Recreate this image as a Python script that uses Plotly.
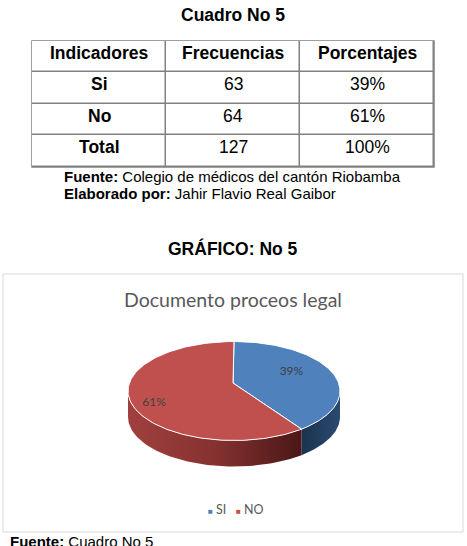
import numpy as np
import plotly.graph_objects as go

# ---------------- data ----------------
headers = ["Indicadores", "Frecuencias", "Porcentajes"]
indicadores = ["Si", "No", "Total"]
frecuencias = [63, 64, 127]
porcentajes = ["39%", "61%", "100%"]

pie_labels = ["SI", "NO"]
pie_values = [39, 61]

# ---------------- style ----------------
W, H = 467, 546
BLUE, RED = "#4f81bd", "#c0504d"
GRID = "#808080"
SIDE_SCALES = [
    [[0, "#1b324f"], [1, "#2b4a70"]],
    [[0, "#a0403e"], [0.5, "#853230"], [1, "#4a1716"]],
]
ARIAL = "Liberation Sans, Arial, sans-serif"
CAL = "Lato, Calibri, sans-serif"


def px(x):
    return x / W


def py(y):
    return 1 - y / H


fig = go.Figure()

# ---------------- table (heatmap grid + text) ----------------
row_keys = ["__header__"] + indicadores
col_keys = headers
z = [[0] * len(col_keys) for _ in row_keys]
fig.add_trace(go.Heatmap(
    x=col_keys, y=row_keys, z=z, xaxis="x2", yaxis="y2",
    colorscale=[[0, "white"], [1, "white"]], zmin=0, zmax=1,
    showscale=False, xgap=1.5, ygap=1.5, hoverinfo="skip",
))
columns = [
    [f"<b>{v}</b>" for v in indicadores],
    [str(v) for v in frecuencias],
    list(porcentajes),
]
table_ann = []
for col, vals in zip(col_keys, columns):
    for row, txt in zip(row_keys, [f"<b>{col}</b>"] + vals):
        table_ann.append(dict(
            x=col, y=row, xref="x2", yref="y2", text=txt, showarrow=False,
            xanchor="center", yanchor="middle", yshift=4,
            font=dict(family=ARIAL, size=17.5, color="black"),
        ))

# ---------------- 3D-looking pie ----------------
cx, cy = 234, 391          # ellipse centre (pixel space)
rx, ry = 106, 49.5         # ellipse radii
depth = 26                 # thickness
ax_, ay_ = 233, 383        # apparent apex of slices (perspective)


def ell(theta_deg):
    t = np.radians(theta_deg)
    return cx + rx * np.sin(t), cy - ry * np.cos(t)


total = sum(pie_values)
bounds = np.concatenate([[0], np.cumsum(pie_values) / total * 360])

# sides (front half only: 90..270 deg)
for i in range(len(pie_values)):
    a, b = bounds[i], bounds[i + 1]
    s, e = max(a, 90), min(b, 270)
    if e <= s:
        continue
    th = np.linspace(s, e, 80)
    xt, yt = ell(th)
    xs = np.concatenate([xt, xt[::-1], xt[:1]])
    ys = np.concatenate([yt, yt[::-1] + depth, yt[:1]])
    fig.add_trace(go.Scatter(
        x=xs, y=ys, mode="lines", fill="toself",
        line=dict(width=0), hoverinfo="skip", showlegend=False,
        fillgradient=dict(type="horizontal", colorscale=SIDE_SCALES[i]),
    ))

# top faces
colors = [BLUE, RED]
for i in range(len(pie_values)):
    a, b = bounds[i], bounds[i + 1]
    th = np.linspace(a, b, 150)
    xt, yt = ell(th)
    xs = np.concatenate([[ax_], xt, [ax_]])
    ys = np.concatenate([[ay_], yt, [ay_]])
    fig.add_trace(go.Scatter(
        x=xs, y=ys, mode="lines", fill="toself", fillcolor=colors[i],
        line=dict(color="white", width=1), hoverinfo="skip", showlegend=False,
    ))

# data labels
fracs = [0.58, 0.8]
lx, ly = [], []
for i in range(len(pie_values)):
    mid = (bounds[i] + bounds[i + 1]) / 2
    ex, ey = ell(mid)
    lx.append(ax_ + fracs[i] * (ex - ax_))
    ly.append(ay_ + fracs[i] * (ey - ay_))
fig.add_trace(go.Scatter(
    x=lx, y=ly, mode="text",
    text=[f"{round(v / total * 100)}%" for v in pie_values],
    textposition=["top center", "middle center"],
    textfont=dict(family=CAL, size=12, color="#404040"),
    hoverinfo="skip", showlegend=False,
))

# ---------------- texts ----------------
ann = [
    dict(text="<b>Cuadro No 5</b>", x=px(233), y=py(15), size=17.5, xanchor="center", family=ARIAL, color="black"),
    dict(text="<b>Fuente:</b> Colegio de médicos del cantón Riobamba", x=px(62), y=py(177), size=15, xanchor="left", family=ARIAL, color="black"),
    dict(text="<b>Elaborado por:</b> Jahir Flavio Real Gaibor", x=px(62), y=py(193), size=15, xanchor="left", family=ARIAL, color="black"),
    dict(text="<b>GRÁFICO: No 5</b>", x=px(233), y=py(249), size=17.5, xanchor="center", family=ARIAL, color="black"),
    dict(text="Documento proceos legal", x=px(233), y=py(299), size=19.5, xanchor="center", family=CAL, color="#595959"),
    dict(text="<b>Fuente:</b> Cuadro No 5", x=px(8), y=py(541), size=15, xanchor="left", family=ARIAL, color="black"),
]
legend_txt = "   ".join(
    f"<span style='color:{c};font-size:8px'>■</span> {lab}" for c, lab in zip(colors, pie_labels)
)
ann.append(dict(text=legend_txt, x=px(236), y=py(509), size=12.5, xanchor="center", family=CAL, color="#595959"))

tx0, tx1, ty0, ty1 = 32, 434, 41, 167
fig.update_layout(
    annotations=[
        dict(text=a["text"], x=a["x"], y=a["y"], xref="paper", yref="paper",
             xanchor=a["xanchor"], yanchor="middle", showarrow=False,
             font=dict(family=a["family"], size=a["size"], color=a["color"]))
        for a in ann
    ] + table_ann,
    shapes=[
        dict(type="rect", xref="paper", yref="paper",
             x0=px(3), x1=px(463), y0=py(274), y1=py(532),
             line=dict(color="#d9d9d9", width=1), layer="below"),
        dict(type="rect", xref="paper", yref="paper",
             x0=px(tx0), x1=px(tx1), y0=py(ty1), y1=py(ty0),
             line=dict(color=GRID, width=1.5), fillcolor=GRID, layer="below"),
    ],
    width=W, height=H,
    margin=dict(l=0, r=0, t=0, b=0),
    paper_bgcolor="white", plot_bgcolor="rgba(0,0,0,0)",
    xaxis=dict(range=[0, W], domain=[0, 1], visible=False, fixedrange=True),
    yaxis=dict(range=[H, 0], domain=[0, 1], visible=False, fixedrange=True),
    xaxis2=dict(domain=[px(tx0), px(tx1)], anchor="y2", visible=False, fixedrange=True,
                categoryorder="array", categoryarray=col_keys),
    yaxis2=dict(domain=[py(ty1), py(ty0)], anchor="x2", visible=False, fixedrange=True,
                categoryorder="array", categoryarray=row_keys, autorange="reversed"),
    showlegend=False,
)

fig.write_html("out.html")
